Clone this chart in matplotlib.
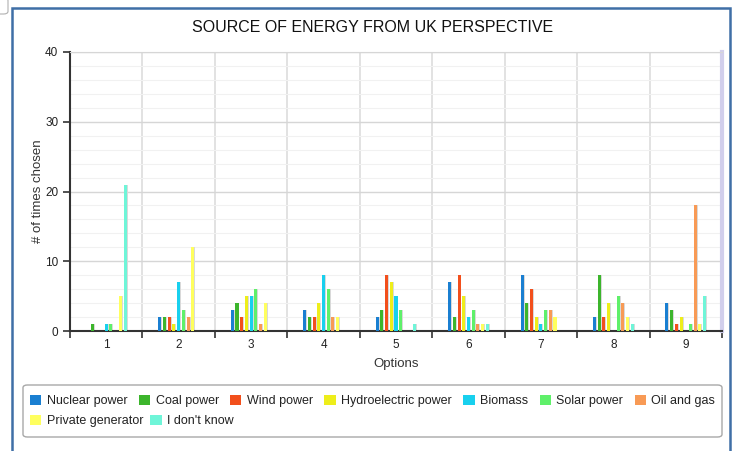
import matplotlib.pyplot as plt
import numpy as np
from matplotlib.patches import FancyBboxPatch, Rectangle

plt.rcParams['font.family'] = ['Liberation Sans', 'DejaVu Sans']

options = ['1', '2', '3', '4', '5', '6', '7', '8', '9']
sources = ['Nuclear power', 'Coal power', 'Wind power', 'Hydroelectric power',
           'Biomass', 'Solar power', 'Oil and gas', 'Private generator', "I don't know"]
colors = ['#1a7fd1', '#3cb52c', '#f24f1c', '#eeee1a', '#18d0ee',
          '#5ff06a', '#f89a55', '#ffff5e', '#6ff5d8']

nuclear = [0, 2, 3, 3, 2, 7, 8, 2, 4]
coal = [1, 2, 4, 2, 3, 2, 4, 8, 3]
wind = [0, 2, 2, 2, 8, 8, 6, 2, 1]
hydro = [0, 1, 5, 4, 7, 5, 2, 4, 2]
biomass = [1, 7, 5, 8, 5, 2, 1, 0, 0]
solar = [1, 3, 6, 6, 3, 3, 3, 5, 1]
oil_gas = [0, 2, 1, 2, 0, 1, 3, 4, 18]
private_gen = [5, 12, 4, 2, 0, 1, 2, 2, 1]
dont_know = [21, 0, 0, 0, 1, 1, 0, 1, 5]

series = [nuclear, coal, wind, hydro, biomass, solar, oil_gas, private_gen, dont_know]

fig = plt.figure(figsize=(7.34, 4.51), dpi=100)
W, H = 734, 451
ax = fig.add_axes([70 / W, 1 - 331 / H, 652 / W, 279 / H])

x = np.arange(1, len(options) + 1)
pitch = 0.065
bw = 0.042
handles = []
for i, (vals, c) in enumerate(zip(series, colors)):
    off = (i - (len(series) - 1) / 2) * pitch
    # thin grey shade on the right of each bar
    ax.bar(x + off + bw / 2 + 0.006, vals, width=0.014, color='#d9d9d9', zorder=2)
    b = ax.bar(x + off, vals, width=bw, color=c, zorder=3, label=sources[i])
    handles.append(b)

ax.set_xlim(0.5, 9.5)
ax.set_ylim(0, 40)
ax.set_xticks(x)
ax.set_xticklabels(options, fontsize=8.5)
ax.set_xticks(np.arange(0.5, 10.0, 1.0), minor=True)
ax.set_yticks([0, 10, 20, 30, 40])
ax.set_yticks(np.arange(0, 41, 2), minor=True)
ax.tick_params(axis='x', which='major', length=0, pad=6, colors='#222222')
ax.tick_params(axis='x', which='minor', length=5, width=1.2, color='#333333')
ax.tick_params(axis='y', which='major', length=5, width=1.2, color='#333333',
               labelsize=8.5, labelcolor='#222222')
ax.tick_params(axis='y', which='minor', length=0)

ax.grid(axis='y', which='major', color='#d6d6d6', lw=1, zorder=0)
ax.grid(axis='y', which='minor', color='#f1f1f1', lw=0.8, zorder=0)
ax.grid(axis='x', which='minor', color='#e2e2e2', lw=1.4, zorder=0)
ax.set_axisbelow(True)

for s in ['left', 'bottom']:
    ax.spines[s].set_color('#333333')
    ax.spines[s].set_linewidth(1.5)
ax.spines['top'].set_color('#d6d6d6')
ax.spines['right'].set_color('#d2cfec')
ax.spines['right'].set_linewidth(3)

ax.set_xlabel('Options', fontsize=9.5, color='#333333', labelpad=5)
ax.set_ylabel('# of times chosen', fontsize=9.5, color='#333333', labelpad=1)

fig.text(373 / W, 1 - 27 / H, 'SOURCE OF ENERGY FROM UK PERSPECTIVE',
         ha='center', va='center', fontsize=11.5, color='#111111')

# outer blue frame
fig.patches.append(Rectangle((12 / W, -0.02), 718 / W, 1 - 8 / H + 0.02,
                             transform=fig.transFigure, fill=False,
                             edgecolor='#3f6fa6', lw=1.8))
fig.patches.append(FancyBboxPatch((-6 / W, 1 - 14 / H), 14 / W, 16 / H,
                                  boxstyle='round,pad=0,rounding_size=0.006',
                                  transform=fig.transFigure, fill=False,
                                  edgecolor='#b0b0b0', lw=0.8))

# legend box
fig.patches.append(FancyBboxPatch((23 / W, 1 - 437 / H), 699 / W, 52 / H,
                                  boxstyle='round,pad=0,rounding_size=0.006',
                                  transform=fig.transFigure, facecolor='white',
                                  edgecolor='#a8a8a8', lw=1))

leg_kw = dict(frameon=False, fontsize=9, handlelength=0.9, handleheight=0.9,
              handletextpad=0.45, borderpad=0, borderaxespad=0)
leg1 = fig.legend(handles=handles[:7], labels=sources[:7], ncol=7,
                  loc='center left', bbox_to_anchor=(30 / W, 1 - 401 / H),
                  columnspacing=0.9, **leg_kw)
leg2 = fig.legend(handles=handles[7:], labels=sources[7:], ncol=2,
                  loc='center left', bbox_to_anchor=(30 / W, 1 - 421 / H),
                  columnspacing=0.55, **leg_kw)
for leg in (leg1, leg2):
    for t in leg.get_texts():
        t.set_color('#222222')

fig.savefig('out.png', dpi=100)
